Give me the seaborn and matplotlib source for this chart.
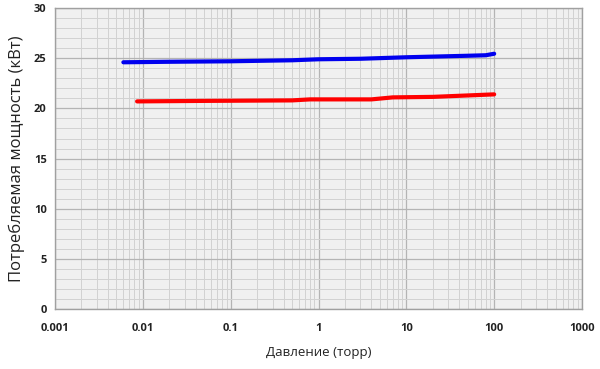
import numpy as np
import pandas as pd
import seaborn as sns
import matplotlib
matplotlib.use("Agg")
import matplotlib.pyplot as plt
from matplotlib.ticker import LogLocator, MultipleLocator, NullFormatter

# Data
blue_p = [0.006, 0.02, 0.1, 0.5, 1, 3, 10, 50, 80, 100]
blue_w = [24.6, 24.65, 24.7, 24.8, 24.9, 24.95, 25.1, 25.25, 25.3, 25.45]
red_p = [0.0086, 0.05, 0.5, 0.8, 4, 7, 20, 100]
red_w = [20.7, 20.75, 20.8, 20.9, 20.9, 21.1, 21.15, 21.4]

x_ticks = [0.001, 0.01, 0.1, 1, 10, 100, 1000]
x_tick_labels = ["0.001", "0.01", "0.1", "1", "10", "100", "1000"]
y_ticks = [0, 5, 10, 15, 20, 25, 30]

df = pd.concat([
    pd.DataFrame({"p": blue_p, "w": blue_w, "s": "blue"}),
    pd.DataFrame({"p": red_p, "w": red_w, "s": "red"}),
])

sns.set_theme(style="white")
plt.rcParams["font.family"] = ["Open Sans", "DejaVu Sans"]

fig = plt.figure(figsize=(6, 3.69), dpi=100)
ax = fig.add_axes([0.0917, 0.1626, 0.8783, 0.8154])
ax.set_facecolor("#f0f0f0")

sns.lineplot(data=df, x="p", y="w", hue="s", palette={"blue": "#0000ee", "red": "#ff0000"},
             linewidth=3, legend=False, ax=ax, estimator=None, sort=True)

ax.set_xscale("log")
ax.set_xlim(0.001, 1000)
ax.set_ylim(0, 30)
ax.set_xticks(x_ticks)
ax.set_xticklabels(x_tick_labels)
ax.xaxis.set_minor_locator(LogLocator(base=10, subs=np.arange(2, 10)))
ax.xaxis.set_minor_formatter(NullFormatter())
ax.set_yticks(y_ticks)
ax.yaxis.set_minor_locator(MultipleLocator(1))

ax.grid(which="major", color="#b4b4b4", linewidth=0.9)
ax.grid(which="minor", color="#d2d2d2", linewidth=0.7)
ax.set_axisbelow(True)

for s in ax.spines.values():
    s.set_color("#a0a0a0")
    s.set_linewidth(1)

ax.tick_params(axis="both", which="both", length=0)
ax.tick_params(axis="x", pad=10, labelsize=8)
ax.tick_params(axis="y", pad=6, labelsize=8)
for lab in ax.get_xticklabels() + ax.get_yticklabels():
    lab.set_fontweight("bold")
    lab.set_color("#222222")

ax.set_xlabel("Давление (торр)", fontsize=9.5, labelpad=9, color="#222222")
ax.set_ylabel("Потребляемая мощность (кВт)", fontsize=12, labelpad=6, color="#222222")

fig.savefig("out.png", dpi=100)
